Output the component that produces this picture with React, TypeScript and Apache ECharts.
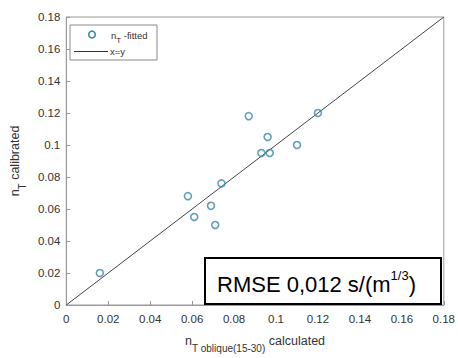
import React, { useEffect, useRef } from "react";
import * as echarts from "echarts";

const xCalculated = [0.016, 0.058, 0.061, 0.069, 0.071, 0.074, 0.087, 0.093, 0.096, 0.097, 0.110, 0.120];
const yCalibrated = [0.020, 0.068, 0.055, 0.062, 0.050, 0.076, 0.118, 0.095, 0.105, 0.095, 0.100, 0.120];
const identityLine = [0, 0.18];
const rmseText = "RMSE 0,012 s/(m";

export default function App() {
  const ref = useRef<HTMLDivElement>(null);
  useEffect(() => {
    document.body.style.margin = "0";
    const chart = echarts.init(ref.current!, null, { renderer: "svg" });
    const font = "Liberation Sans, Arial, sans-serif";
    const points = xCalculated.map((x, i) => [x, yCalibrated[i]]);
    const linePts = identityLine.map((v) => [v, v]);
    chart.setOption({
      animation: false,
      backgroundColor: "#fff",
      textStyle: { fontFamily: font },
      grid: { left: 63, right: 11, top: 17, bottom: 40, show: true, borderColor: "#9a9a9a", borderWidth: 1 },
      xAxis: {
        type: "value", min: 0, max: 0.18, interval: 0.02,
        axisLine: { lineStyle: { color: "#9a9a9a" } },
        axisTick: { inside: true, length: 4, lineStyle: { color: "#9a9a9a" } },
        splitLine: { show: false },
        axisLabel: { color: "#333", fontSize: 11.5, margin: 8, fontFamily: font },
        name: "{a|n}{b|T oblique(15-30)}{a| calculated}",
        nameLocation: "middle", nameGap: 26,
        nameTextStyle: {
          rich: {
            a: { fontSize: 12.5, color: "#333", fontFamily: font, verticalAlign: "bottom", lineHeight: 16 },
            b: { fontSize: 10, color: "#333", fontFamily: font, verticalAlign: "bottom", lineHeight: 16, padding: [0, 0, -6, 0] },
          },
        },
      },
      yAxis: {
        type: "value", min: 0, max: 0.18, interval: 0.02,
        axisLine: { lineStyle: { color: "#9a9a9a" } },
        axisTick: { inside: true, length: 4, lineStyle: { color: "#9a9a9a" } },
        splitLine: { show: false },
        axisLabel: { color: "#333", fontSize: 11.5, margin: 6, fontFamily: font },
        name: "{a|n}{b|T}{a| calibrated}",
        nameLocation: "middle", nameGap: 40,
        nameTextStyle: {
          rich: {
            a: { fontSize: 12.5, color: "#333", fontFamily: font, verticalAlign: "bottom", lineHeight: 16 },
            b: { fontSize: 10, color: "#333", fontFamily: font, verticalAlign: "bottom", lineHeight: 16, padding: [0, 0, -6, 0] },
          },
        },
      },
      series: [
        {
          type: "line", data: linePts, symbol: "none",
          lineStyle: { color: "#444", width: 1 }, z: 2,
        },
        {
          type: "scatter", data: points, symbol: "circle", symbolSize: 7,
          itemStyle: { color: "rgba(255,255,255,0)", borderColor: "#3a8aa6", borderWidth: 1.6 }, z: 3,
        },
      ],
      graphic: [
        { type: "rect", shape: { x: 70, y: 25, width: 87, height: 35 }, style: { fill: "#fff", stroke: "#8a8a8a", lineWidth: 1 }, z: 10 },
        { type: "circle", shape: { cx: 92, cy: 34.5, r: 3.3 }, style: { fill: "none", stroke: "#3a8aa6", lineWidth: 1.6 }, z: 11 },
        {
          type: "text", x: 111, y: 34, z: 11,
          style: {
            text: "{a|n}{b|T}{a| -fitted}",
            verticalAlign: "middle",
            rich: {
              a: { fontSize: 9.5, fill: "#333", fontFamily: font, verticalAlign: "bottom", lineHeight: 12 },
              b: { fontSize: 8, fill: "#333", fontFamily: font, verticalAlign: "bottom", lineHeight: 12, padding: [0, 0, -4, 0] },
            },
          },
        },
        { type: "line", shape: { x1: 74, y1: 51.5, x2: 108, y2: 51.5 }, style: { stroke: "#333", lineWidth: 1 }, z: 11 },
        { type: "text", x: 110, y: 51.5, z: 11, style: { text: "x=y", fontSize: 9.5, fill: "#333", fontFamily: font, verticalAlign: "middle" } },
        { type: "rect", shape: { x: 205, y: 258, width: 236, height: 46 }, style: { fill: "#fff", stroke: "#000", lineWidth: 2 }, z: 10 },
        {
          type: "text", x: 217, y: 282, z: 11,
          style: {
            text: "{a|" + rmseText + "}{s|1/3}{a|)}",
            verticalAlign: "middle",
            rich: {
              a: { fontSize: 22, fill: "#000", fontFamily: font, verticalAlign: "bottom", lineHeight: 26 },
              s: { fontSize: 13, fill: "#000", fontFamily: font, verticalAlign: "top", lineHeight: 26 },
            },
          },
        },
      ],
    });
    return () => chart.dispose();
  }, []);
  return <div ref={ref} style={{ width: 458, height: 358 }} />;
}
